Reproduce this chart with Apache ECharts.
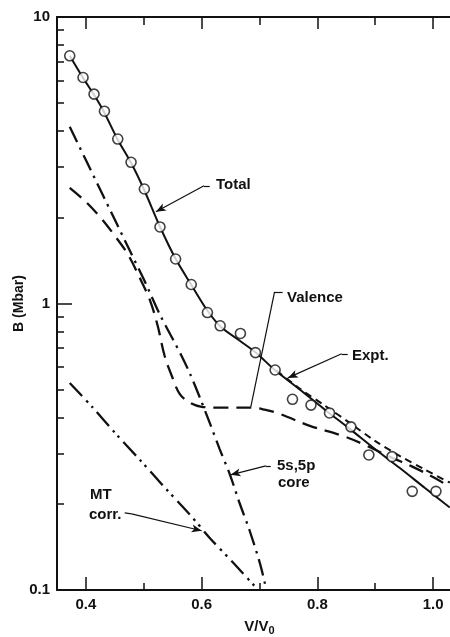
<!DOCTYPE html>
<html><head><meta charset="utf-8">
<script src="https://cdn.jsdelivr.net/npm/echarts@6/dist/echarts.min.js"></script>
<style>html,body{margin:0;padding:0;background:#fff}#c{width:450px;height:637px}</style>
</head><body><div id="c"></div>
<script>
// ---- data (V/V0, B in Mbar) ----
const xMajorTicks = [0.4, 0.6, 0.8, 1.0];
const xMinorTicks = [0.5, 0.7, 0.9];
const yMinorTicks = [0.2,0.3,0.4,0.5,0.6,0.7,0.8,0.9,2,3,4,5,6,7,8,9];

const circlePoints = [[0.372,7.32],[0.395,6.15],[0.414,5.38],[0.432,4.69],[0.455,3.75],[0.478,3.11],[0.501,2.51],[0.528,1.85],[0.555,1.43],[0.582,1.165],[0.610,0.930],[0.632,0.836],[0.667,0.786],[0.693,0.674],[0.727,0.586],[0.757,0.463],[0.789,0.442],[0.821,0.415],[0.858,0.371],[0.889,0.296],[0.929,0.292],[0.964,0.221],[1.005,0.221]];

const totalCurve = [[0.372,7.32],[0.395,6.13],[0.414,5.35],[0.431,4.67],[0.455,3.73],[0.478,3.10],[0.500,2.51],[0.528,1.853],[0.555,1.432],[0.581,1.172],[0.609,0.951],[0.633,0.829],[0.666,0.741],[0.694,0.673],[0.726,0.587],[0.770,0.500],[0.813,0.426],[0.856,0.365],[0.899,0.311],[0.942,0.267],[0.986,0.227],[1.029,0.194]];

const exptCurve = [[0.730,0.582],[0.770,0.504],[0.813,0.440],[0.856,0.383],[0.899,0.332],[0.942,0.294],[0.986,0.263],[1.029,0.237]];

const valenceCurve = [[0.372,2.534],[0.398,2.283],[0.424,2.007],[0.450,1.723],[0.473,1.479],[0.493,1.229],[0.511,1.022],[0.524,0.836],[0.536,0.657],[0.549,0.555],[0.562,0.484],[0.580,0.450],[0.600,0.436],[0.640,0.433],[0.687,0.433],[0.709,0.426],[0.735,0.412],[0.787,0.374],[0.844,0.345],[0.885,0.319],[0.925,0.292],[0.965,0.269],[1.003,0.246],[1.029,0.229]];

const coreCurve = [[0.372,4.14],[0.398,3.226],[0.424,2.513],[0.450,1.960],[0.476,1.527],[0.502,1.191],[0.528,0.913],[0.549,0.759],[0.566,0.652],[0.580,0.568],[0.597,0.469],[0.614,0.383],[0.631,0.311],[0.649,0.2524],[0.666,0.200],[0.683,0.161],[0.701,0.1234],[0.712,0.100]];

const mtCurve = [[0.372,0.528],[0.412,0.433],[0.450,0.354],[0.493,0.285],[0.537,0.227],[0.580,0.183],[0.614,0.152],[0.657,0.123],[0.692,0.103],[0.698,0.100]];

// annotation leaders: [hookStart, hookEnd, arrowTip]
const totalLeader   = [[0.614,2.575],[0.604,2.575],[0.521,2.089]];
const valenceLeader = [[0.740,1.099],[0.726,1.099],[0.685,0.436]];
const exptLeader    = [[0.8525,0.6675],[0.842,0.6675],[0.749,0.550]];
const coreLeader    = [[0.7195,0.2713],[0.711,0.2713],[0.650,0.2524]];
const mtLeader      = [[0.467,0.186],[0.479,0.1845],[0.600,0.161]];

const FONT = '"Liberation Sans", Arial, sans-serif';
const INK = '#111';

function leader(p, arrow) {
  return [
    [{coord: p[0], symbol: 'none'}, {coord: p[1], symbol: 'none'}],
    [{coord: p[1], symbol: 'none'}, {coord: p[2], symbol: arrow ? 'arrow' : 'none', symbolSize: [6, 10]}]
  ];
}

const chart = echarts.init(document.getElementById('c'), null, {renderer: 'canvas'});
const gridBox = {left: 57, top: 17, width: 405, height: 573, containLabel: false, outerBoundsMode: 'none'};

function xAx(pos, ticks, len, opts) {
  return Object.assign({
    type: 'value', position: pos, min: 0.35, max: 1.05, gridIndex: 0,
    axisLine: {show: true, onZero: false, lineStyle: {color: INK, width: 2}},
    axisTick: {show: true, inside: true, length: len, customValues: ticks, lineStyle: {color: INK, width: 1.5}},
    axisLabel: {show: false}, splitLine: {show: false}
  }, opts || {});
}

const option = {
  animation: false,
  backgroundColor: '#fff',
  grid: gridBox,
  xAxis: [
    xAx('bottom', xMajorTicks, 13, {
      axisLabel: {show: true, customValues: xMajorTicks, margin: 7, color: INK,
        fontFamily: FONT, fontSize: 15, fontWeight: 'bold',
        formatter: v => v.toFixed(1)},
      name: '{a|V/V}{b|0}', nameLocation: 'middle', nameGap: 27, nameMoveOverlap: false,
      nameTextStyle: {rich: {
        a: {fontFamily: FONT, fontSize: 15, fontWeight: 'bold', color: INK},
        b: {fontFamily: FONT, fontSize: 11, fontWeight: 'bold', color: INK, verticalAlign: 'bottom', padding: [8,0,0,0]}
      }}
    }),
    xAx('bottom', xMinorTicks, 7, {axisLine: {show: false}}),
    xAx('top', xMajorTicks, 12),
    xAx('top', xMinorTicks, 8, {axisLine: {show: false}})
  ],
  yAxis: [
    {type: 'log', logBase: 10, min: 0.1, max: 10, position: 'left',
     axisLine: {show: true, onZero: false, lineStyle: {color: INK, width: 2}},
     axisTick: {show: true, inside: true, length: 15, lineStyle: {color: INK, width: 1.5}},
     axisLabel: {show: true, margin: 7, color: INK, fontFamily: FONT, fontSize: 15, fontWeight: 'bold',
       formatter: v => (v < 1 ? v.toFixed(1) : String(Math.round(v)))},
     splitLine: {show: false},
     name: 'B (Mbar)', nameLocation: 'middle', nameGap: 31, nameMoveOverlap: false,
     nameTextStyle: {fontFamily: FONT, fontSize: 14, fontWeight: 'bold', color: INK}},
    {type: 'log', logBase: 10, min: 0.1, max: 10, position: 'left',
     axisLine: {show: false},
     axisTick: {show: true, inside: true, length: 7, customValues: yMinorTicks, lineStyle: {color: INK, width: 1.5}},
     axisLabel: {show: false}, splitLine: {show: false}}
  ],
  series: [
    {type: 'line', name: 'Valence', data: valenceCurve, showSymbol: false, smooth: 0.35,
     lineStyle: {color: INK, width: 2.3, type: [15, 8]}, z: 2},
    {type: 'line', name: 'core', data: coreCurve, showSymbol: false, smooth: 0.3,
     lineStyle: {color: INK, width: 2.3, type: [17, 6, 2.5, 6]}, z: 2},
    {type: 'line', name: 'MT', data: mtCurve, showSymbol: false, smooth: 0.3,
     lineStyle: {color: INK, width: 2.3, type: [18, 6, 2.5, 5, 2.5, 6]}, z: 2},
    {type: 'line', name: 'Expt', data: exptCurve, showSymbol: false, smooth: 0.3,
     lineStyle: {color: INK, width: 2, type: [7, 5]}, z: 3},
    {type: 'line', name: 'Total', data: totalCurve, showSymbol: false, smooth: 0.3,
     lineStyle: {color: INK, width: 2}, z: 4,
     markLine: {silent: true, animation: false, symbol: ['none', 'none'],
       label: {show: false}, lineStyle: {color: INK, width: 1.2, type: 'solid'},
       emphasis: {disabled: true},
       data: [].concat(leader(totalLeader, true), leader(valenceLeader, false),
                       leader(exptLeader, true), leader(coreLeader, true), leader(mtLeader, true))}},
    {type: 'scatter', name: 'points', data: circlePoints, symbol: 'circle', symbolSize: 10,
     itemStyle: {color: '#fff', borderColor: INK, borderWidth: 1.6}, z: 5}
  ],
  graphic: [
    {type: 'text', left: 216, top: 177, style: {text: 'Total', font: 'bold 15px ' + FONT, fill: INK}},
    {type: 'text', left: 287, top: 290, style: {text: 'Valence', font: 'bold 15px ' + FONT, fill: INK}},
    {type: 'text', left: 352, top: 348, style: {text: 'Expt.', font: 'bold 15px ' + FONT, fill: INK}},
    {type: 'text', left: 277, top: 458, style: {text: '5s,5p', font: 'bold 15px ' + FONT, fill: INK}},
    {type: 'text', left: 278, top: 475, style: {text: 'core', font: 'bold 15px ' + FONT, fill: INK}},
    {type: 'text', left: 90, top: 487, style: {text: 'MT', font: 'bold 15px ' + FONT, fill: INK}},
    {type: 'text', left: 89, top: 507, style: {text: 'corr.', font: 'bold 15px ' + FONT, fill: INK}}
  ]
};
chart.setOption(option);
</script>
</body></html>
